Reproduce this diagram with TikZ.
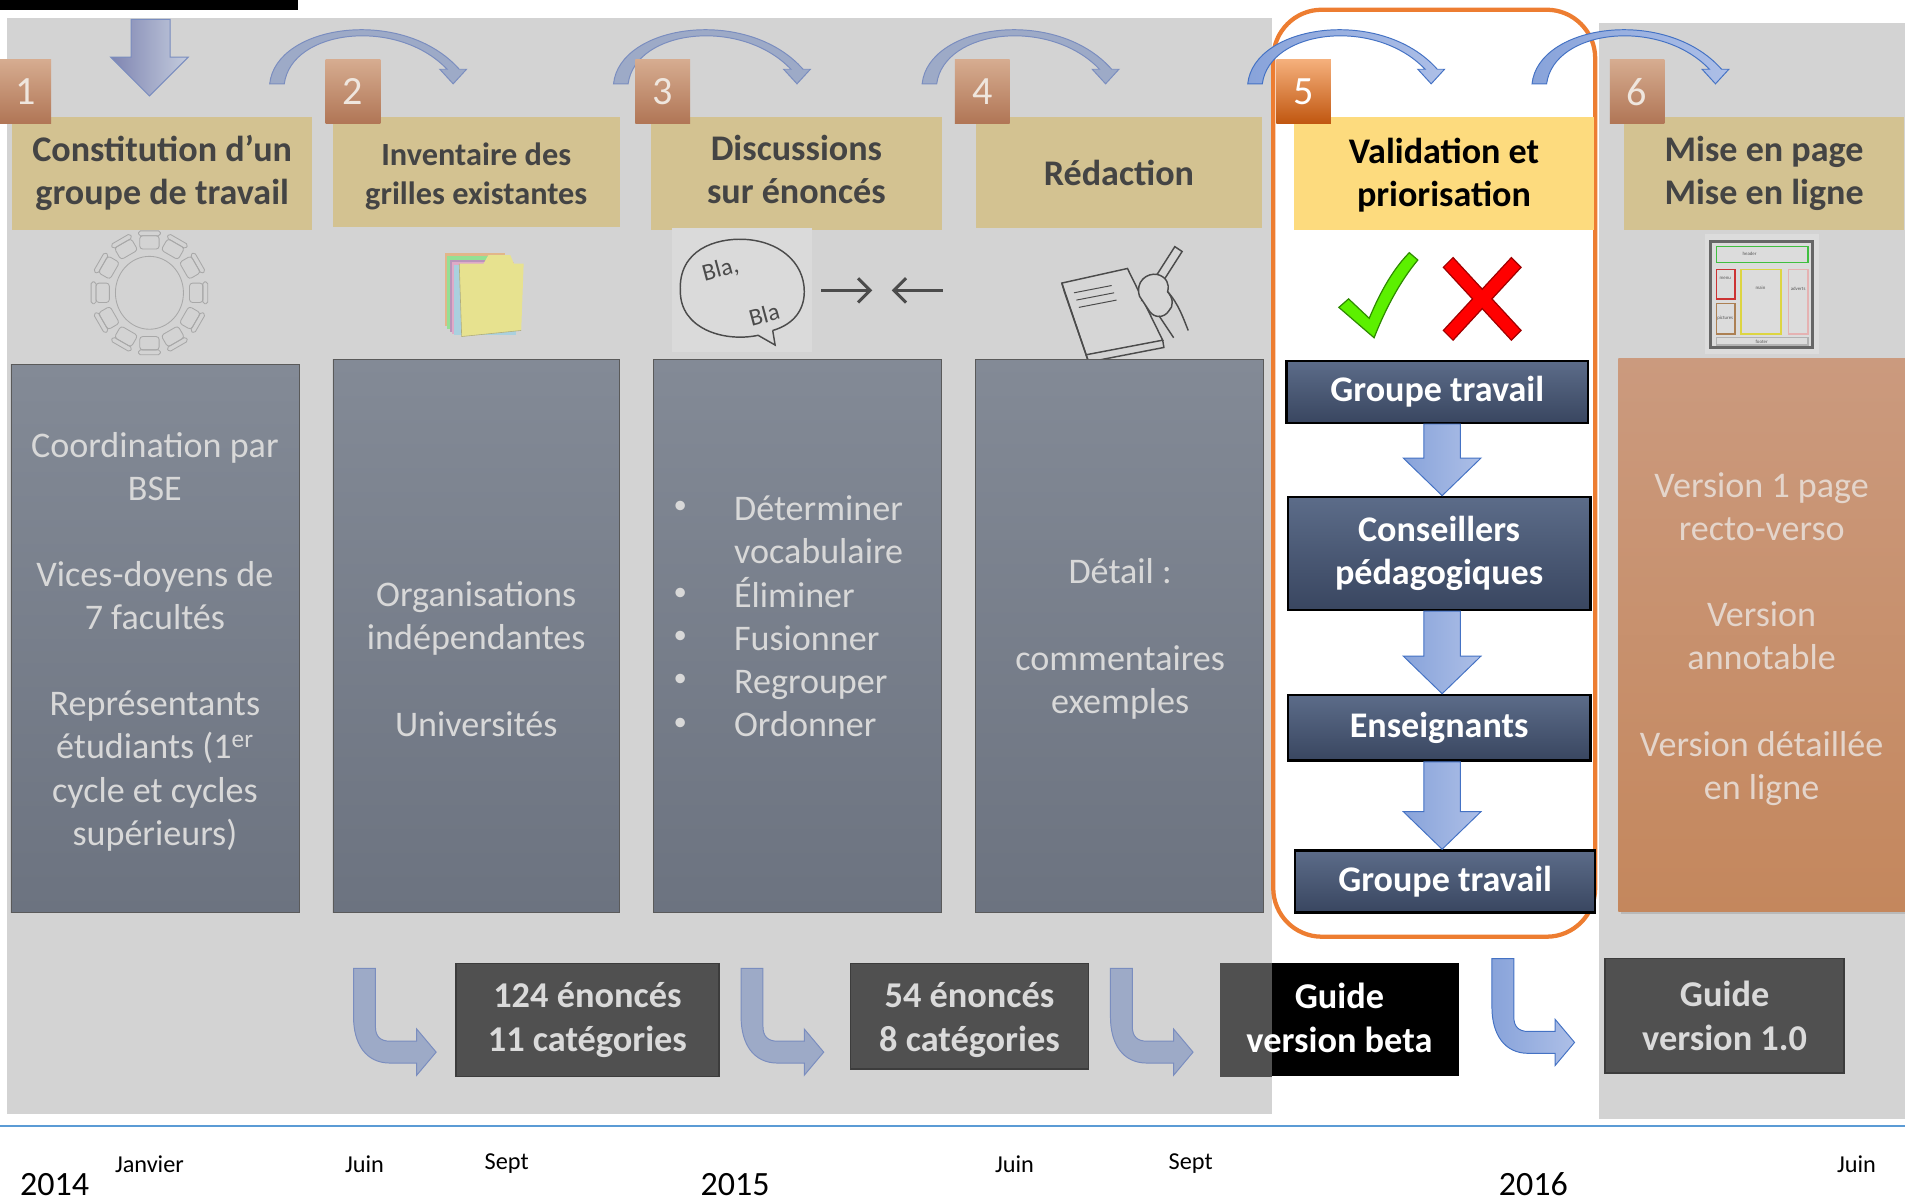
\documentclass[tikz,border=0pt]{standalone}
\usepackage{fontspec}
\setmainfont{Carlito}
\usetikzlibrary{arrows.meta,calc,positioning,shadows}

\definecolor{bggray}{HTML}{D3D3D3}
\definecolor{headtan}{HTML}{D3C291}
\definecolor{headtxt}{HTML}{444444}
\definecolor{head5}{HTML}{FDDB7E}
\definecolor{badgetop}{HTML}{D6AC90}
\definecolor{badgebot}{HTML}{B07555}
\definecolor{badge5top}{HTML}{F5B07C}
\definecolor{badge5bot}{HTML}{C0560F}
\definecolor{badgetxt}{HTML}{EFE6DE}
\definecolor{boxtop}{HTML}{838A96}
\definecolor{boxbot}{HTML}{6C7380}
\definecolor{boxline}{HTML}{5A5A5A}
\definecolor{boxtxt}{HTML}{D8D8D8}
\definecolor{flowtop}{HTML}{5C6C89}
\definecolor{flowbot}{HTML}{394660}
\definecolor{orbtop}{HTML}{CB9A7E}
\definecolor{orbbot}{HTML}{C4875D}
\definecolor{orbtxt}{HTML}{E4D5CB}
\definecolor{outgray}{HTML}{505050}
\definecolor{outline}{HTML}{3C3C3C}
\definecolor{outtxt}{HTML}{DADADA}
\definecolor{arrdim}{HTML}{9DAAC7}
\definecolor{arrdimline}{HTML}{7A8DBF}
\definecolor{arrlitl}{HTML}{88A3DA}
\definecolor{arrlitr}{HTML}{ADBFE7}
\definecolor{arrlitline}{HTML}{4472C4}
\definecolor{orangeline}{HTML}{ED7D31}
\definecolor{timeline}{HTML}{5B9BD5}
\definecolor{tablegray}{HTML}{A8A8A8}
\definecolor{inkgray}{HTML}{4B4B4B}
\definecolor{padgray}{HTML}{D6D6D6}
\definecolor{checkfill}{HTML}{5CF000}
\definecolor{checkline}{HTML}{2E8B00}
\definecolor{crossfill}{HTML}{FF0000}
\definecolor{crossline}{HTML}{A00000}

\begin{document}
\begin{tikzpicture}[x=1pt, y=-1pt,
    head/.style={fill=headtan, text=headtxt, align=center, inner sep=0pt,
      font={\fontsize{29.7}{35.5}\selectfont\bfseries}},
    badge/.style={top color=badgetop, bottom color=badgebot, text=badgetxt,
      minimum width=45, minimum height=53, inner sep=0pt,
      font={\fontsize{33}{36}\selectfont}},
    graybox/.style={draw=boxline, top color=boxtop, bottom color=boxbot, inner sep=0pt},
    boxtext/.style={text=boxtxt, align=center, inner sep=0pt,
      font={\fontsize{29.7}{35.5}\selectfont}},
    flowbox/.style={draw=black, line width=2, top color=flowtop, bottom color=flowbot,
      text=white, align=center, inner sep=0pt, font={\fontsize{29.7}{36}\selectfont\bfseries}},
    outbox/.style={fill=outgray, draw=outline, line width=1.5, text=outtxt, align=center,
      inner sep=0pt, font={\fontsize{29.9}{36}\selectfont\bfseries}},
    dimarrow/.style={fill=arrdim, draw=arrdimline, line width=0.8},
    litarrow/.style={left color=arrlitl, right color=arrlitr, draw=arrlitline, line width=0.8},
    month/.style={font={\fontsize{20}{22}\selectfont}},
    year/.style={font={\fontsize{28}{32}\selectfont}},
    tableline/.style={draw=tablegray, line width=0.7},
    ink/.style={draw=inkgray, line width=1.2}
  ]
  \useasboundingbox (0,0) rectangle (1568,990);

  %background panels
  \fill[bggray] (6,15) rectangle (1047,917);
  \fill[bggray] (1316,19) rectangle (1568,921);
  \fill[black] (0,0) rectangle (245,8);
  \fill[top color=badge5top, bottom color=badge5bot] (0,49) rectangle (6,102);

  %frame of step 5
  \draw[orangeline, line width=3.5, rounded corners=40] (1048,8) rectangle (1313,771);

  %arrows between steps
  \path[dimarrow, left color=arrdim!80!blue!60!gray, right color=arrdim!60!white] (108,16) -- (140,16) -- (140,47) -- (155,47) -- (123,79) -- (91,47) -- (108,47) -- cycle;
  \foreach \x/\s in {222/dimarrow, 505/dimarrow, 759/dimarrow, 1027/litarrow, 1261/litarrow}{
    \path[\s] (\x,69) .. controls (\x+5,20) and (\x+110,5) .. (\x+156,57) -- (\x+162,57) -- (\x+151,69)
      -- (\x+140,57) -- (\x+146,57) .. controls (\x+105,14) and (\x+18,24) .. (\x+12,69) -- cycle;
  }

  %headings
  \node[head, minimum width=247, minimum height=93] (h1) at (133.5,142.5) {Constitution d’un\\groupe de travail};
  \node[head, minimum width=236, minimum height=91] (h2) at (392,141.5) {};
  \node[text=headtxt, align=center, inner sep=0pt, font={\fontsize{26.6}{32}\selectfont\bfseries}] (h2t) at (392,145) {Inventaire des\\grilles existantes};
  \node[head, minimum width=239, minimum height=93] (h3) at (655.5,142.5) {};
  \node[text=headtxt, align=center, inner sep=0pt, font={\fontsize{29.7}{35.5}\selectfont\bfseries}] (h3t) at (655.5,139.5) {Discussions\\sur énoncés};
  \node[head, minimum width=236, minimum height=92] (h4) at (921,142) {Rédaction};
  \node[head, fill=head5, minimum width=247, minimum height=93] (h5) at (1188.5,142.5) {};
  \node[text=black, align=center, inner sep=0pt, font={\fontsize{29.7}{35.5}\selectfont\bfseries}] (h5t) at (1188.5,144.5) {Validation et\\priorisation};
  \node[head, minimum width=230, minimum height=93] (h6) at (1452,142.5) {Mise en page\\Mise en ligne};

  \node[badge, minimum width=42] (b1) at (21,75.5) {1};
  \foreach \x/\n in {290.5/2, 545.5/3, 808.5/4, 1347.5/6}
    \node[badge] (b\n) at (\x,75.5) {\n};
  \node[badge, top color=badge5top, bottom color=badge5bot, text=white] (b5) at (1073,75.5) {5};

  %icon: round table
  \draw[tableline] (123,241) ellipse [x radius=28, y radius=30];
  \foreach \a in {0,30,...,330}{
    \draw[tableline, rounded corners=2.5, shift={($(123,241)+(\a:39 and 42)$)}, rotate=-\a] (-6,-8) rectangle (5,8);
    \draw[tableline, rounded corners=1.5, shift={($(123,241)+(\a:39 and 42)$)}, rotate=-\a] (5,-9) rectangle (9,9);
  }

  %icon: folder
  \fill[orange!35!bggray] (366,208) rectangle (416,268);
  \fill[green!30!bggray] (368,211) rectangle (419,271);
  \fill[violet!30!bggray] (370,214) rectangle (421,273);
  \fill[magenta!25!bggray] (372,216) rectangle (423,275);
  \fill[cyan!25!bggray] (374,218) rectangle (425,276);
  \fill[yellow!38!bggray] (378,217) -- (398,217) -- (402,210) -- (420,210) -- (423,217) -- (431,217) -- (429,272) -- (380,277) -- cycle;
  \draw[yellow!30!gray, line width=0.5] (378,217) -- (380,277) -- (429,272);

  %icon: bla bla
  \fill[bggray!85!white] (553,188) rectangle (668,290);
  \draw[ink] (636,272) -- (638,284) -- (624,276) .. controls (595,282) and (560,270) .. (560,240)
    .. controls (558,205) and (590,196) .. (612,197) .. controls (640,198) and (662,215) .. (662,240)
    .. controls (662,258) and (650,268) .. (636,272);
  \node[text=inkgray, rotate=15, inner sep=0pt, font={\fontsize{20}{22}\selectfont}] (bla1) at (593,222) {Bla,};
  \node[text=inkgray, rotate=15, inner sep=0pt, font={\fontsize{20}{22}\selectfont}] (bla2) at (629,259) {Bla};
  \coordinate (r1) at (676,239);
  \coordinate (r2) at (718,239);
  \coordinate (l1) at (776,239);
  \coordinate (l2) at (734,239);
  \draw[inkgray, line width=2.5, -{Straight Barb[length=10pt, width=20pt]}] (r1) -- (r2);
  \draw[inkgray, line width=2.5, -{Straight Barb[length=10pt, width=20pt]}] (l1) -- (l2);

  %icon: writing hand
  \draw[ink, fill=padgray] (874,233) -- (928,221) -- (957,280) -- (894,292) -- cycle;
  \draw[ink] (874,233) -- (876,240) -- (896,298) -- (958,286) -- (957,280);
  \draw[ink] (896,298) -- (894,292);
  \foreach \i in {0,1,2}
    \draw[ink, line width=0.8] (884+2*\i,241+6*\i) -- (915+2*\i,235+6*\i);
  \draw[ink, fill=padgray] (944,239) -- (967,203) -- (973,207) -- (950,243) -- cycle;
  \draw[ink] (944,239) -- (940,247) -- (950,243);
  \draw[ink, fill=padgray] (938,244) .. controls (934,232) and (944,224) .. (953,226)
    .. controls (960,228) and (963,234) .. (961,240) .. controls (966,246) and (966,252) .. (962,256)
    .. controls (958,262) and (950,262) .. (946,256) -- cycle;
  \draw[ink] (961,240) .. controls (970,250) and (974,262) .. (978,272);
  \draw[ink] (954,260) .. controls (958,266) and (962,272) .. (966,278);

  %icon: yes / no
  \draw[checkline, fill=checkfill, line width=1] (1102,253) -- (1110,246) -- (1127,262)
    .. controls (1137,238) and (1148,220) .. (1160,208) -- (1167,214)
    .. controls (1152,232) and (1140,255) .. (1131,278) -- cycle;
  \draw[crossline, fill=crossfill, line width=1] (1188,220) -- (1196,212) -- (1220,238) -- (1244,212)
    -- (1252,220) -- (1228,246) -- (1252,272) -- (1244,280) -- (1220,254) -- (1196,280)
    -- (1188,272) -- (1212,246) -- cycle;

  %icon: page layout
  \fill[bggray!80!white] (1403,193) rectangle (1497,291);
  \draw[gray!80!black, line width=2.5] (1408,199) rectangle (1492,286);
  \draw[green!50!gray, line width=1.2] (1413,203) rectangle (1488,216);
  \draw[red!60!gray, line width=1.2] (1413,222) rectangle (1428,246);
  \draw[brown!70!gray, line width=1.2] (1413,250) rectangle (1428,275);
  \draw[yellow!70!gray, line width=1.2] (1433,222) rectangle (1466,275);
  \draw[pink!80!gray, line width=1.2] (1472,222) rectangle (1488,275);
  \draw[gray!60, line width=1.2] (1413,278) rectangle (1488,284);
  \foreach \x/\y/\t [count=\i] in {1440/209/header, 1420/229/menu, 1449/237/main, 1480/238/adverts, 1420/262/pictures, 1450/281/footer}
    \node[inner sep=0pt, text=gray!70!black, font={\fontsize{4}{5}\selectfont}] (w\i) at (\x,\y) {\t};

  %content of steps 1 to 4
  \node[graybox, minimum width=237, minimum height=451] (c1) at (127.5,525.5) {};
  \node[graybox, minimum width=236, minimum height=455] (c2) at (392,523.5) {};
  \node[graybox, minimum width=237, minimum height=455] (c3) at (656.5,523.5) {};
  \node[graybox, minimum width=237, minimum height=455] (c4) at (921.5,523.5) {};

  \node[boxtext] (t1) at (127.5,528) {Coordination par\\BSE\\[35.5pt]Vices-doyens de\\7 facultés\\[35.5pt]Représentants\\étudiants (1\textsuperscript{er}\\cycle et cycles\\supérieurs)};
  \node[boxtext] (t2) at (392,542.5) {Organisations\\indépendantes\\[35.5pt]Universités};
  \foreach \t [count=\i] in {Déterminer, vocabulaire, Éliminer, Fusionner, Regrouper, Ordonner}
    \node[boxtext, anchor=base west] (d\i) at (604,{428.5+35.6*(\i-1)}) {\t};
  \foreach \i in {1,3,4,5,6}
    \node[boxtext, font={\fontsize{22}{24}\selectfont}] (bu\i) at (560,{418+35.6*(\i-1)}) {•};
  \node[boxtext] (t4) at (922,526) {Détail :\\[35.5pt]commentaires\\exemples};

  %step 5: validation chain
  \node[flowbox, minimum width=248, minimum height=51] (g1) at (1183,322.5) {Groupe travail};
  \node[flowbox, minimum width=249, minimum height=93] (g2) at (1184.5,455.5) {Conseillers\\pédagogiques};
  \node[flowbox, minimum width=249, minimum height=54] (g3) at (1184.5,599) {Enseignants};
  \node[flowbox, minimum width=247, minimum height=51] (g4) at (1189.5,725.5) {Groupe travail};
  \coordinate (ax) at (1187,0);
  \foreach \a/\b in {g1/g2, g2/g3, g3/g4}
    \path[litarrow] ($(\a.south -| ax)+(-15,0)$) -- ($(\a.south -| ax)+(15,0)$) -- ($(\b.north -| ax)+(15,-31)$)
      -- ($(\b.north -| ax)+(32,-31)$) -- (\b.north -| ax) -- ($(\b.north -| ax)+(-32,-31)$)
      -- ($(\b.north -| ax)+(-15,-31)$) -- cycle;

  %step 6
  \node[top color=orbtop, bottom color=orbbot, minimum width=240, minimum height=455, inner sep=0pt,
    drop shadow={opacity=0.3}] (c6) at (1452,522.5) {};
  \node[boxtext, text=orbtxt] (t6) at (1450,526) {Version 1 page\\recto-verso\\[35.5pt]Version\\annotable\\[35.5pt]Version détaillée\\en ligne};

  %results
  \foreach \a/\b/\s in {291/797/dimarrow, 610/797/dimarrow, 914/797/dimarrow, 1228/789/litarrow}
    \path[\s] (\a,\b) -- (\a+18,\b) -- (\a+18,\b+48) .. controls (\a+18,\b+56) and (\a+22,\b+60) .. (\a+30,\b+60)
      -- (\a+52,\b+60) -- (\a+52,\b+50) -- (\a+68,\b+69) -- (\a+52,\b+88) -- (\a+52,\b+78) -- (\a+30,\b+78)
      .. controls (\a+10,\b+78) and (\a,\b+62) .. (\a,\b+40) -- cycle;

  \node[outbox, minimum width=217, minimum height=93] (o1) at (483.5,839.5) {124 énoncés\\11 catégories};
  \node[outbox, minimum width=196, minimum height=87] (o2) at (798,836.5) {};
  \node[outbox, fill=none, draw=none] (o2t) at (798,839.5) {54 énoncés\\8 catégories};
  \node[fill=black, minimum width=197, minimum height=93, inner sep=0pt] (o3) at (1102.5,839.5) {};
  \coordinate (edge) at (1047,0);
  \fill[outgray] (o3.south west) rectangle (o3.north -| edge);
  \node[outbox, fill=none, draw=none, text=white] (o3t) at (1102.5,838) {Guide\\version beta};
  \node[outbox, minimum width=197, minimum height=94] (o4) at (1419.5,836) {Guide\\version 1.0};

  %time axis
  \coordinate (t0) at (0,927);
  \coordinate (t1) at (1568,927);
  \draw[timeline, line width=1.5] (t0) -- (t1);
  \foreach \x/\t/\n in {123/Janvier/1, 300/Juin/2, 417/Sept/3, 835/Juin/4, 980/Sept/5, 1528/Juin/6}
    \node[month] (m\n) at (\x,958) {\t};
  \foreach \x/\t in {45/2014, 605/2015, 1262/2016}
    \node[year] (y\t) at (\x,975) {\t};
\end{tikzpicture}
\end{document}
